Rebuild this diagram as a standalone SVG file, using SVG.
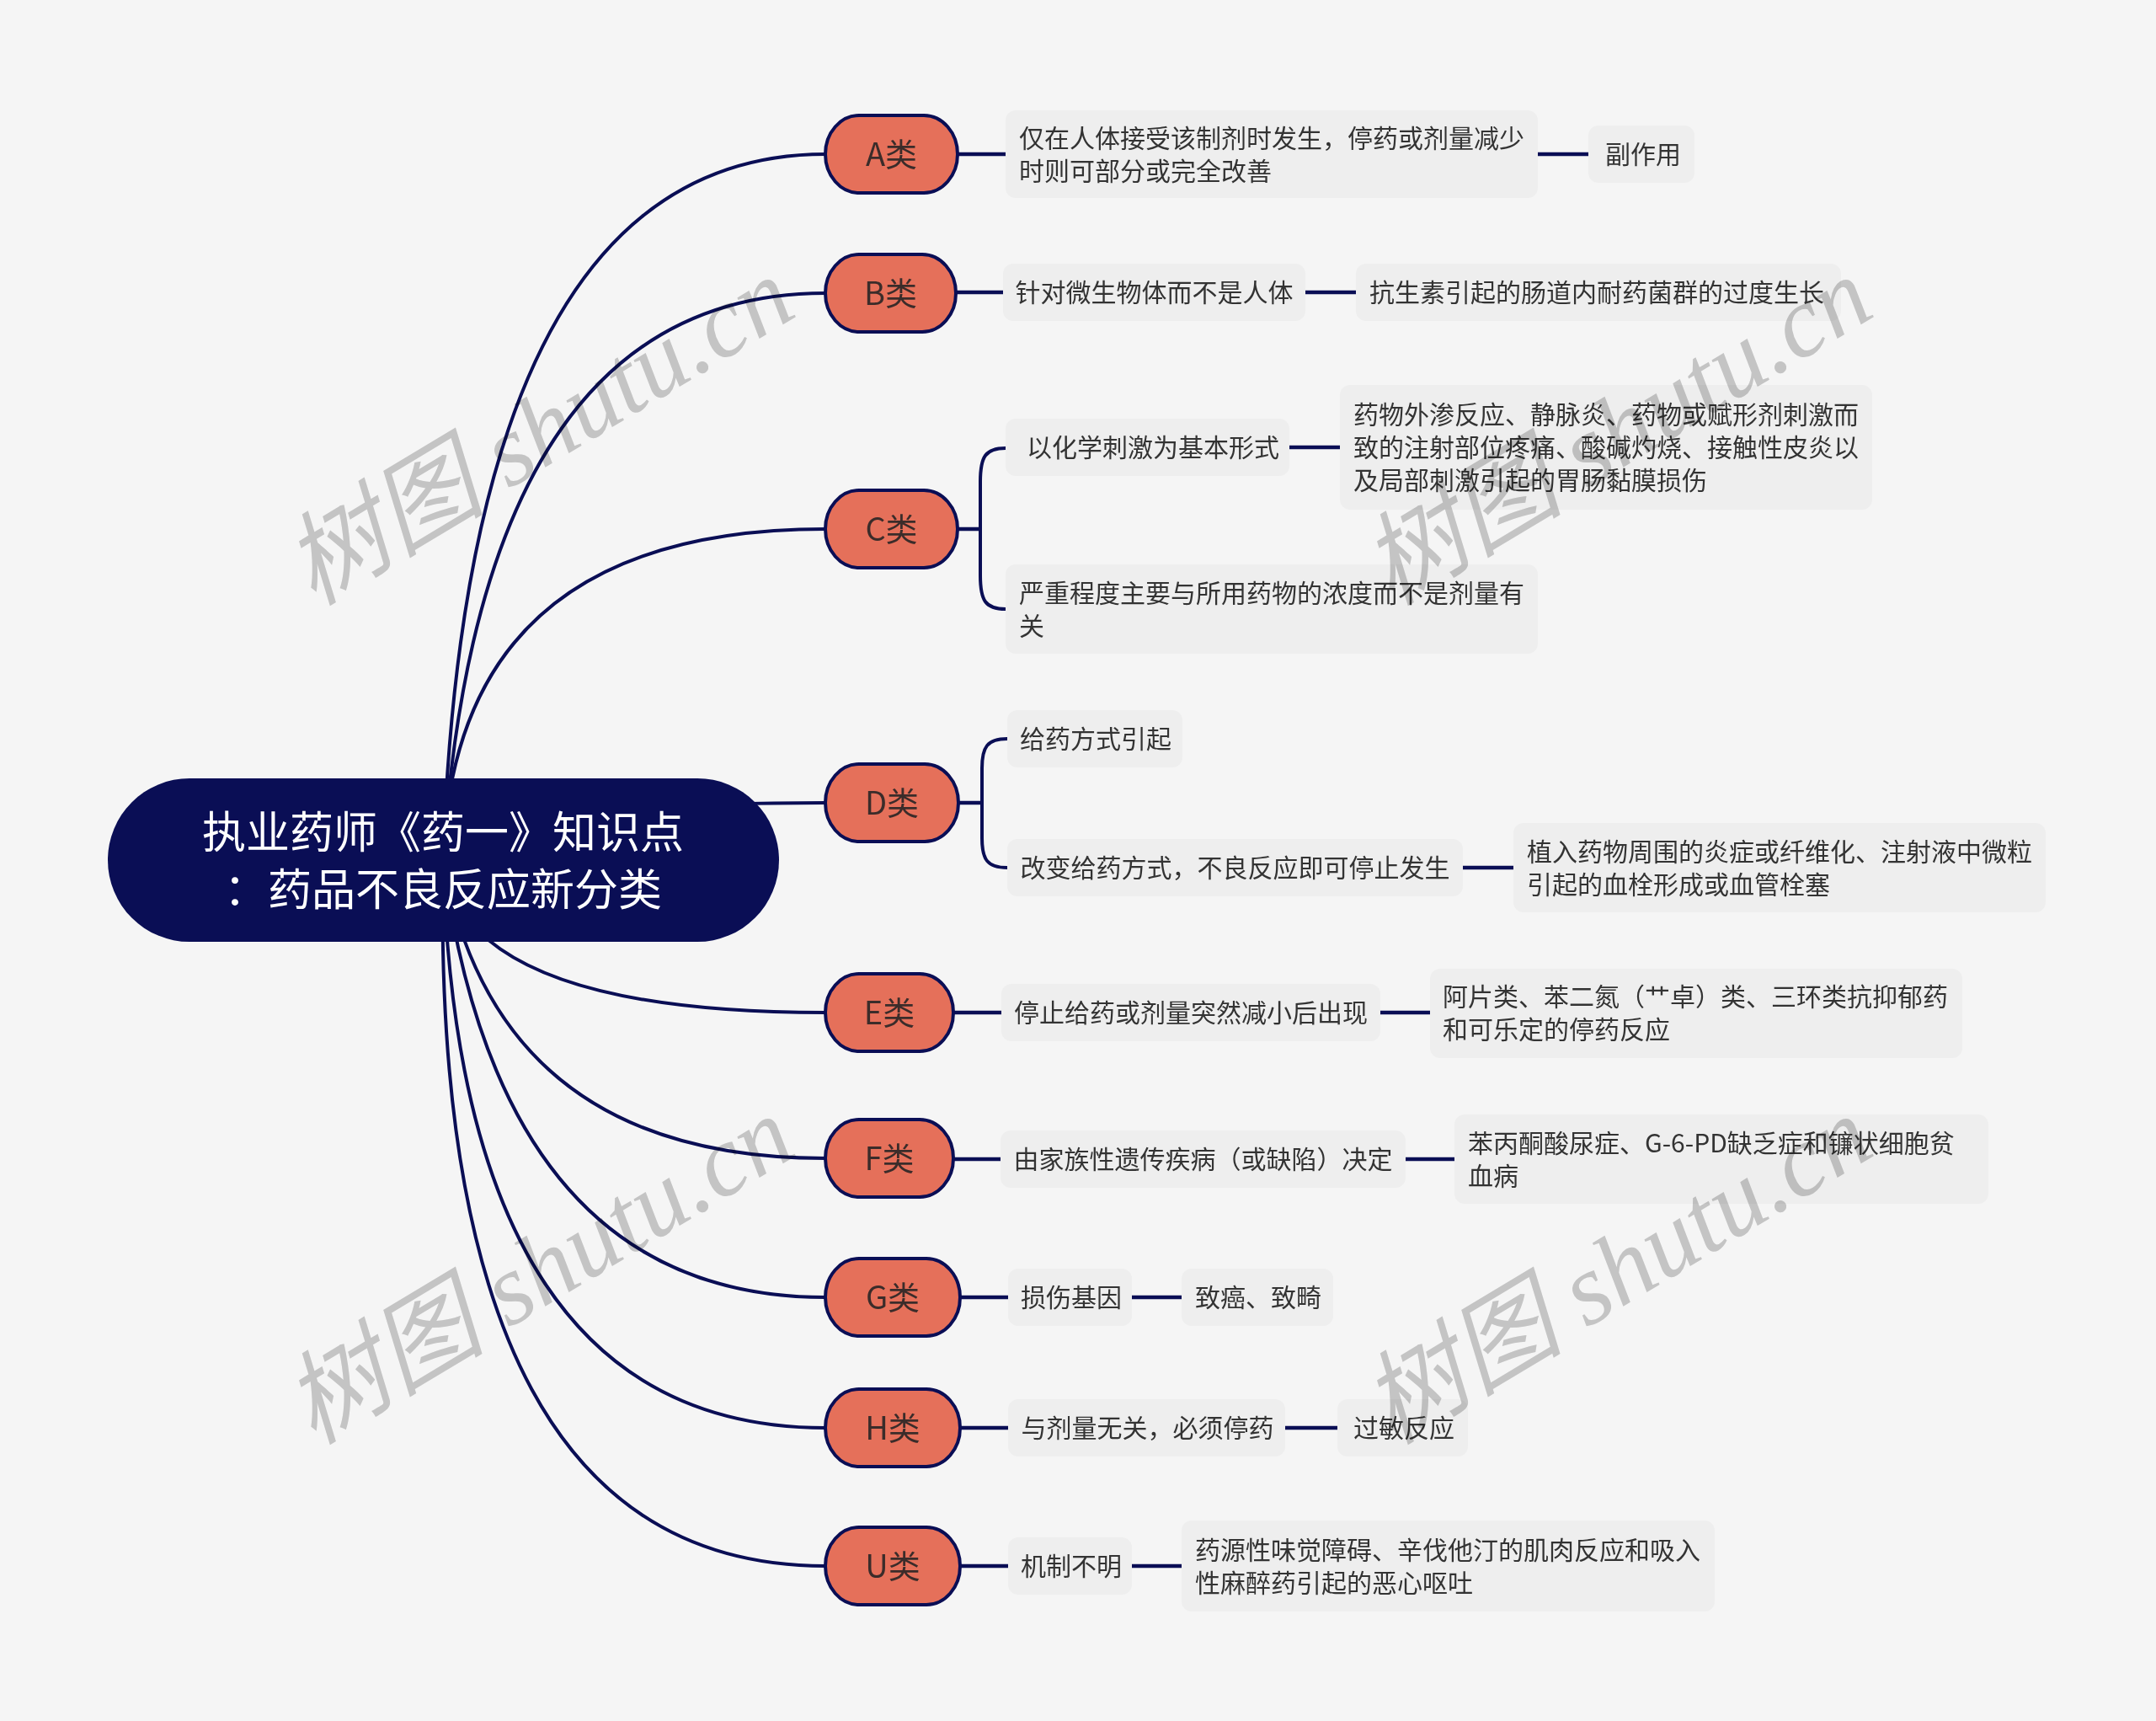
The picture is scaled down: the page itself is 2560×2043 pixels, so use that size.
<svg xmlns="http://www.w3.org/2000/svg" width="2560" height="2043" viewBox="0 0 2560 2043">
<style>
.bg{fill:#f5f5f5}
.curve{fill:none;stroke:#0a0e55;stroke-width:4;stroke-linecap:round}
.stub{fill:none;stroke:#0a0e55;stroke-width:4.5}
.root{fill:#0a0e55}
.rootText{fill:#ffffff;font-family:"Noto Sans CJK SC","Noto Sans",sans-serif;font-size:52px;text-anchor:middle;dominant-baseline:central;transform:translateY(-3px)}
.cat{fill:#e5705a;stroke:#0a0e55;stroke-width:4}
.catText{fill:#3b2c2a;font-family:"Noto Sans CJK SC","Noto Sans",sans-serif;font-size:38px;text-anchor:middle;dominant-baseline:central;transform:translateY(-3px)}
.box{fill:#eeeeee}
.t{fill:#333333;font-family:"Noto Sans CJK SC","Noto Sans",sans-serif;font-size:30px;dominant-baseline:central;transform:translateY(-2px)}
.tc{text-anchor:middle}
.wm{fill:#cccccc;font-family:"Liberation Serif","Noto Sans CJK SC",serif;font-style:italic;font-size:120px;text-anchor:middle;dominant-baseline:central;mix-blend-mode:multiply}
</style>
<rect class="bg" x="0" y="0" width="2560" height="2043"/>

<g id="connectors">
  <path class="curve" d="M526,1021 Q555,183 980,183"/>
  <path class="curve" d="M526,1021 Q570,348 980,348"/>
  <path class="curve" d="M526,1021 Q540,628 980,628"/>
  <path class="curve" d="M526,1021 Q560,953 980,953"/>
  <path class="curve" d="M526,1021 Q550,1202 980,1202"/>
  <path class="curve" d="M526,1021 Q590,1375 980,1375"/>
  <path class="curve" d="M526,1021 Q595,1540 980,1540"/>
  <path class="curve" d="M526,1021 Q545,1695 980,1695"/>
  <path class="curve" d="M526,1021 Q510,1859 980,1859"/>

  <path class="stub" d="M1137,183 H1194"/>
  <path class="stub" d="M1826,183 H1886"/>
  <path class="stub" d="M1135,347 H1191"/>
  <path class="stub" d="M1550,347 H1610"/>
  <path class="stub" d="M1137,628 H1164"/>
  <path class="curve" d="M1194,532 C1170,532 1164,542 1164,572 L1164,683 C1164,713 1170,723 1194,723"/>
  <path class="stub" d="M1531,531 H1591"/>
  <path class="stub" d="M1138,953 H1166"/>
  <path class="curve" d="M1196,877 C1172,877 1166,887 1166,912 L1166,995 C1166,1020 1172,1030 1196,1030"/>
  <path class="stub" d="M1737,1030 H1797"/>
  <path class="stub" d="M1132,1202 H1189"/>
  <path class="stub" d="M1639,1202 H1698"/>
  <path class="stub" d="M1132,1376 H1188"/>
  <path class="stub" d="M1669,1376 H1727"/>
  <path class="stub" d="M1140,1540 H1197"/>
  <path class="stub" d="M1344,1540 H1403"/>
  <path class="stub" d="M1140,1695 H1197"/>
  <path class="stub" d="M1526,1695 H1588"/>
  <path class="stub" d="M1140,1859 H1197"/>
  <path class="stub" d="M1344,1859 H1403"/>
</g>

<g id="root">
  <rect class="root" x="128" y="924" width="797" height="194" rx="97" ry="97"/>
  <text class="rootText" x="526" y="987">执业药师《药一》知识点</text>
  <text class="rootText" x="526" y="1055">：药品不良反应新分类</text>
</g>

<g id="nodeA"><rect class="cat" x="980" y="137" width="157" height="92" rx="40" ry="46"/><text class="catText" x="1058.5" y="183">A类</text></g>
<g id="nodeB"><rect class="cat" x="980" y="302" width="155" height="92" rx="40" ry="46"/><text class="catText" x="1057.5" y="348">B类</text></g>
<g id="nodeC"><rect class="cat" x="980" y="582" width="157" height="92" rx="40" ry="46"/><text class="catText" x="1058.5" y="628">C类</text></g>
<g id="nodeD"><rect class="cat" x="980" y="907" width="158" height="92" rx="40" ry="46"/><text class="catText" x="1059" y="953">D类</text></g>
<g id="nodeE"><rect class="cat" x="980" y="1156" width="152" height="92" rx="40" ry="46"/><text class="catText" x="1056" y="1202">E类</text></g>
<g id="nodeF"><rect class="cat" x="980" y="1329" width="152" height="92" rx="40" ry="46"/><text class="catText" x="1056" y="1375">F类</text></g>
<g id="nodeG"><rect class="cat" x="980" y="1494" width="160" height="92" rx="40" ry="46"/><text class="catText" x="1060" y="1540">G类</text></g>
<g id="nodeH"><rect class="cat" x="980" y="1649" width="160" height="92" rx="40" ry="46"/><text class="catText" x="1060" y="1695">H类</text></g>
<g id="nodeU"><rect class="cat" x="980" y="1813" width="160" height="92" rx="40" ry="46"/><text class="catText" x="1060" y="1859">U类</text></g>

<g id="A1"><rect class="box" x="1194" y="131" width="632" height="104" rx="12"/><text class="t" x="1210" y="163.5">仅在人体接受该制剂时发生，停药或剂量减少</text><text class="t" x="1210" y="202.5">时则可部分或完全改善</text></g>
<g id="A2"><rect class="box" x="1886" y="149" width="126" height="68" rx="12"/><text class="t tc" x="1951" y="183">副作用</text></g>
<g id="B1"><rect class="box" x="1191" y="313" width="359" height="68" rx="12"/><text class="t tc" x="1370.5" y="347">针对微生物体而不是人体</text></g>
<g id="B2"><rect class="box" x="1610" y="313" width="576" height="68" rx="12"/><text class="t tc" x="1896" y="347">抗生素引起的肠道内耐药菌群的过度生长</text></g>
<g id="C1"><rect class="box" x="1194" y="497" width="337" height="68" rx="12"/><text class="t" x="1219" y="531">以化学刺激为基本形式</text></g>
<g id="C1a"><rect class="box" x="1591" y="457" width="632" height="148" rx="12"/><text class="t" x="1607" y="492">药物外渗反应、静脉炎、药物或赋形剂刺激而</text><text class="t" x="1607" y="531">致的注射部位疼痛、酸碱灼烧、接触性皮炎以</text><text class="t" x="1607" y="570">及局部刺激引起的胃肠黏膜损伤</text></g>
<g id="C2"><rect class="box" x="1194" y="670" width="632" height="106" rx="12"/><text class="t" x="1210" y="703.5">严重程度主要与所用药物的浓度而不是剂量有</text><text class="t" x="1210" y="742.5">关</text></g>
<g id="D1"><rect class="box" x="1196" y="843" width="208" height="68" rx="12"/><text class="t tc" x="1301" y="877">给药方式引起</text></g>
<g id="D2"><rect class="box" x="1196" y="996" width="541" height="68" rx="12"/><text class="t tc" x="1466.5" y="1030">改变给药方式，不良反应即可停止发生</text></g>
<g id="D2a"><rect class="box" x="1797" y="977" width="632" height="106" rx="12"/><text class="t" x="1813" y="1011">植入药物周围的炎症或纤维化、注射液中微粒</text><text class="t" x="1813" y="1050">引起的血栓形成或血管栓塞</text></g>
<g id="E1"><rect class="box" x="1189" y="1168" width="450" height="68" rx="12"/><text class="t tc" x="1414" y="1202">停止给药或剂量突然减小后出现</text></g>
<g id="E1a"><rect class="box" x="1698" y="1150" width="632" height="106" rx="12"/><text class="t" x="1713" y="1183">阿片类、苯二氮（艹卓）类、三环类抗抑郁药</text><text class="t" x="1713" y="1222">和可乐定的停药反应</text></g>
<g id="F1"><rect class="box" x="1188" y="1342" width="481" height="68" rx="12"/><text class="t tc" x="1428.5" y="1376">由家族性遗传疾病（或缺陷）决定</text></g>
<g id="F1a"><rect class="box" x="1727" y="1323" width="634" height="106" rx="12"/><text class="t" x="1743" y="1356.5">苯丙酮酸尿症、G-6-PD缺乏症和镰状细胞贫</text><text class="t" x="1743" y="1395.5">血病</text></g>
<g id="G1"><rect class="box" x="1197" y="1506" width="147" height="68" rx="12"/><text class="t tc" x="1272" y="1540">损伤基因</text></g>
<g id="G1a"><rect class="box" x="1403" y="1506" width="180" height="68" rx="12"/><text class="t tc" x="1494" y="1540">致癌、致畸</text></g>
<g id="H1"><rect class="box" x="1197" y="1661" width="329" height="68" rx="12"/><text class="t tc" x="1362.5" y="1695">与剂量无关，必须停药</text></g>
<g id="H1a"><rect class="box" x="1588" y="1661" width="155" height="68" rx="12"/><text class="t tc" x="1667" y="1695">过敏反应</text></g>
<g id="U1"><rect class="box" x="1197" y="1825" width="147" height="68" rx="12"/><text class="t tc" x="1272" y="1859">机制不明</text></g>
<g id="U1a"><rect class="box" x="1403" y="1805" width="633" height="108" rx="12"/><text class="t" x="1419" y="1840">药源性味觉障碍、辛伐他汀的肌肉反应和吸入</text><text class="t" x="1419" y="1879">性麻醉药引起的恶心呕吐</text></g>

<g id="watermarks">
  <text class="wm" transform="translate(640,512) rotate(-31)">树图 shutu.cn</text>
  <text class="wm" transform="translate(1920,512) rotate(-31)">树图 shutu.cn</text>
  <text class="wm" transform="translate(640,1508) rotate(-31)">树图 shutu.cn</text>
  <text class="wm" transform="translate(1920,1508) rotate(-31)">树图 shutu.cn</text>
</g>
</svg>
